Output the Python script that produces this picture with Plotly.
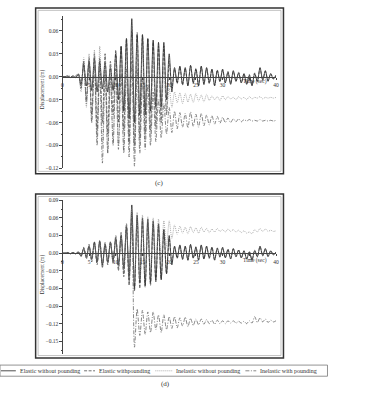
import numpy as np
import plotly.graph_objects as go

W, H = 377, 393

# ---------------- DATA ----------------
series_names = ["Elastic without pounding", "Elastic withpounding",
                "Inelastic without pounding", "Inelastic with pounding"]
x_tick_vals = [0, 5, 10, 15, 20, 25, 30, 35, 40]
x_tick_text = ["0", "5", "10", "15", "20", "25", "30", "", "40"]

# panel (c): displacement (m), samples from t=0 to 40 s
c_elastic_without = [
    0, 0, 0.001, -0.001, 0.001, -0.001,
    0.003, -0.01, 0.016, -0.012, 0.02, -0.018, 0.024, -0.02, 0.02, -0.016, 0.018, -0.02,
    0.012, -0.018, 0.03, -0.03, 0.04, -0.045, 0.05, -0.055, 0.076, -0.06, 0.055, -0.05,
    0.055, -0.05, 0.05, -0.045, 0.048, -0.04, 0.045, -0.04, 0.045, -0.03, 0.03, -0.02,
    0.012, -0.008, 0.014, -0.01, 0.012, -0.012, 0.015, -0.008, 0.01, -0.012, 0.014, -0.01,
    0.012, -0.008, 0.01, -0.012, 0.008, -0.006, 0.01, -0.008, 0.006, -0.01, 0.008, -0.006,
    0.005, -0.008, 0.004, -0.01, 0.002, -0.012, 0.004, -0.006, 0.012, -0.004, 0.008, -0.006,
    0.004, -0.003, 0.002]
c_elastic_with = [
    0, 0, 0, 0.001, -0.001, 0.001,
    0.004, -0.015, 0.02, -0.03, 0.025, -0.05, 0.03, -0.07, 0.025, -0.06, 0.03, -0.075,
    0.02, -0.05, 0.035, -0.06, 0.04, -0.07, 0.05, -0.085, 0.06, -0.09, 0.058, -0.08,
    0.055, -0.075, 0.05, -0.07, 0.045, -0.065, 0.04, -0.06, 0.04, -0.05, 0.02, -0.015,
    0.01, -0.009, 0.013, -0.011, 0.011, -0.012, 0.014, -0.009, 0.011, -0.011, 0.013, -0.01,
    0.011, -0.009, 0.01, -0.011, 0.009, -0.007, 0.009, -0.008, 0.007, -0.009, 0.007, -0.006,
    0.006, -0.008, 0.004, -0.009, 0.003, -0.011, 0.005, -0.006, 0.011, -0.005, 0.007, -0.005,
    0.004, -0.003, 0.002]
c_inelastic_without = [
    0, 0, 0.001, -0.001, 0.001, -0.001,
    0.004, -0.02, 0.025, -0.04, 0.03, -0.06, 0.035, -0.08, 0.04, -0.09, 0.03, -0.1,
    0.02, -0.085, 0.025, -0.09, 0.02, -0.095, 0.03, -0.09, 0.05, -0.1, 0.045, -0.09,
    0.04, -0.085, 0.035, -0.08, 0.03, -0.07, 0.02, -0.06, 0.01, -0.045, -0.015, -0.04,
    -0.02, -0.034, -0.021, -0.035, -0.022, -0.033, -0.023, -0.034, -0.022, -0.032, -0.024, -0.033,
    -0.023, -0.031, -0.025, -0.03, -0.026, -0.031, -0.025, -0.03, -0.026, -0.029, -0.027, -0.03,
    -0.026, -0.029, -0.027, -0.03, -0.026, -0.029, -0.027, -0.028, -0.026, -0.029, -0.027, -0.028,
    -0.027, -0.028, -0.027]
c_inelastic_with = [
    0, 0, 0.001, -0.001, 0.001, -0.001,
    0.003, -0.015, 0.02, -0.035, 0.02, -0.06, 0.015, -0.09, 0.01, -0.113, 0.005, -0.1,
    0.0, -0.09, 0.01, -0.095, 0.005, -0.1, 0.01, -0.105, 0.02, -0.117, 0.01, -0.1,
    -0.005, -0.095, -0.01, -0.09, -0.02, -0.085, -0.03, -0.08, -0.035, -0.075, -0.04, -0.073,
    -0.045, -0.068, -0.047, -0.066, -0.048, -0.067, -0.046, -0.065, -0.049, -0.066, -0.048, -0.064,
    -0.05, -0.063, -0.051, -0.062, -0.052, -0.061, -0.053, -0.06, -0.054, -0.06, -0.055, -0.059,
    -0.055, -0.059, -0.056, -0.058, -0.056, -0.058, -0.057, -0.058, -0.056, -0.058, -0.057, -0.058,
    -0.057, -0.058, -0.057]

# panel (d)
d_elastic_without = [
    0, 0, 0.001, -0.001, 0.001, -0.001,
    0.002, -0.005, 0.008, -0.006, 0.012, -0.01, 0.018, -0.015, 0.02, -0.02, 0.015, -0.015,
    0.018, -0.012, 0.025, -0.02, 0.03, -0.025, 0.045, -0.04, 0.082, -0.06, 0.065, -0.05,
    0.06, -0.055, 0.058, -0.05, 0.055, -0.045, 0.05, -0.045, 0.04, -0.035, 0.03, -0.02,
    0.012, -0.008, 0.014, -0.01, 0.012, -0.012, 0.015, -0.008, 0.01, -0.012, 0.014, -0.01,
    0.012, -0.008, 0.01, -0.012, 0.008, -0.006, 0.01, -0.008, 0.006, -0.01, 0.008, -0.006,
    0.005, -0.008, 0.004, -0.01, 0.002, -0.012, 0.004, -0.006, 0.012, -0.004, 0.008, -0.006,
    0.004, -0.003, 0.002]
d_elastic_with = [
    0, 0, 0.001, -0.001, 0.001, -0.001,
    0.002, -0.006, 0.01, -0.01, 0.015, -0.015, 0.02, -0.02, 0.022, -0.025, 0.018, -0.02,
    0.02, -0.018, 0.03, -0.03, 0.035, -0.04, 0.05, -0.055, 0.07, -0.065, 0.06, -0.06,
    0.055, -0.058, 0.052, -0.055, 0.05, -0.05, 0.045, -0.045, 0.04, -0.035, 0.025, -0.015,
    0.01, -0.009, 0.013, -0.011, 0.011, -0.012, 0.014, -0.009, 0.011, -0.011, 0.013, -0.01,
    0.011, -0.009, 0.01, -0.011, 0.009, -0.007, 0.009, -0.008, 0.007, -0.009, 0.007, -0.006,
    0.006, -0.008, 0.004, -0.009, 0.003, -0.011, 0.005, -0.006, 0.011, -0.005, 0.007, -0.005,
    0.004, -0.003, 0.002]
d_inelastic_without = [
    0, 0, 0.001, -0.001, 0.001, -0.001,
    0.002, -0.005, 0.008, -0.007, 0.012, -0.01, 0.016, -0.014, 0.02, -0.018, 0.016, -0.014,
    0.018, -0.012, 0.025, -0.02, 0.035, -0.03, 0.05, -0.04, 0.078, -0.05, 0.07, -0.045,
    0.065, -0.035, 0.062, -0.03, 0.06, -0.02, 0.058, -0.01, 0.055, 0.01, 0.055, 0.025,
    0.048, 0.032, 0.046, 0.034, 0.044, 0.033, 0.045, 0.035, 0.043, 0.034, 0.044, 0.036,
    0.042, 0.035, 0.041, 0.036, 0.042, 0.037, 0.04, 0.036, 0.041, 0.037, 0.04, 0.036,
    0.039, 0.035, 0.038, 0.034, 0.036, 0.033, 0.04, 0.036, 0.042, 0.037, 0.041, 0.037,
    0.039, 0.037, 0.038]
d_inelastic_with = [
    0, 0, 0.001, -0.001, 0.001, -0.001,
    0.002, -0.005, 0.008, -0.008, 0.012, -0.012, 0.016, -0.016, 0.02, -0.02, 0.015, -0.017,
    0.018, -0.015, 0.025, -0.025, 0.03, -0.035, 0.045, -0.05, 0.06, -0.16, -0.095, -0.14,
    -0.097, -0.138, -0.1, -0.135, -0.1, -0.13, -0.105, -0.135, -0.105, -0.13, -0.108, -0.128,
    -0.108, -0.127, -0.11, -0.124, -0.109, -0.125, -0.111, -0.123, -0.112, -0.122, -0.112, -0.121,
    -0.113, -0.12, -0.114, -0.121, -0.114, -0.12, -0.115, -0.12, -0.115, -0.119, -0.115, -0.119,
    -0.116, -0.119, -0.116, -0.12, -0.115, -0.119, -0.108, -0.118, -0.11, -0.117, -0.112, -0.118,
    -0.114, -0.117, -0.115]

panel_c = [c_elastic_without, c_elastic_with, c_inelastic_without, c_inelastic_with]
panel_d = [d_elastic_without, d_elastic_with, d_inelastic_without, d_inelastic_with]

# ---------------- STYLE ----------------
SERIF = "Liberation Serif"
styles = [
    dict(color="#222222", width=0.8, dash="solid"),
    dict(color="#333333", width=0.7, dash="3px,1.5px"),
    dict(color="#8a8a8a", width=0.7, dash="1px,1px"),
    dict(color="#555555", width=0.7, dash="4px,1.5px,1px,1.5px"),
]

def px(x):
    return x / W

def py(y):
    return 1 - y / H

fig = go.Figure()

for vals_list, (xa, ya) in [(panel_c, ("x", "y")), (panel_d, ("x2", "y2"))]:
    for vals, st in zip(vals_list, styles):
        t = np.linspace(0, 40, len(vals))
        fig.add_trace(go.Scatter(x=t, y=vals, mode="lines",
                                 line=dict(st, shape="spline", smoothing=0.8),
                                 xaxis=xa, yaxis=ya, showlegend=False,
                                 hoverinfo="skip"))

# axes geometry
xdom = [px(62), px(278)]
c_range = [-0.12, 0.08]
c_dom = [py(168), py(12.8)]
d_range = [-0.172, 0.09]
d_dom = [py(356.7), py(200.3)]

def zero_pos(rng, dom):
    return dom[0] + (0 - rng[0]) / (rng[1] - rng[0]) * (dom[1] - dom[0])

tickfont = dict(family=SERIF, size=5.5, color="#333")
xcommon = dict(range=[0, 40], domain=xdom, anchor="free", showline=True,
               linecolor="#444", linewidth=0.8, ticks="outside", ticklen=2,
               tickcolor="#444", tickwidth=0.6, tickmode="array",
               tickvals=x_tick_vals, ticktext=x_tick_text, tickfont=tickfont,
               showgrid=False, zeroline=False, ticklabelstandoff=1)
ycommon = dict(anchor="free", position=px(62), showline=True, linecolor="#444",
               linewidth=0.8, ticks="outside", ticklen=3, tickcolor="#444",
               tickwidth=0.6, tickmode="linear", tick0=0, dtick=0.03,
               tickformat=".2f", tickfont=tickfont, showgrid=False, zeroline=False,
               minor=dict(ticks="outside", ticklen=1.5, tickcolor="#444",
                          tickmode="linear", tick0=0, dtick=0.015))

fig.update_layout(
    width=W, height=H, margin=dict(l=0, r=0, t=0, b=0),
    paper_bgcolor="white", plot_bgcolor="rgba(0,0,0,0)",
    xaxis=dict(xcommon, position=zero_pos(c_range, c_dom)),
    yaxis=dict(ycommon, range=c_range, domain=c_dom),
    xaxis2=dict(xcommon, position=zero_pos(d_range, d_dom)),
    yaxis2=dict(ycommon, range=d_range, domain=d_dom),
)

shapes = []
# double frames
for (x0, x1, y0, y1) in [(35, 285.5, 5, 173.5), (35, 285.5, 194, 360.5)]:
    shapes.append(dict(type="rect", xref="paper", yref="paper",
                       x0=px(x0), x1=px(x1), y0=py(y1), y1=py(y0),
                       line=dict(color="#333", width=1.5)))
    shapes.append(dict(type="rect", xref="paper", yref="paper",
                       x0=px(x0 + 2.5), x1=px(x1 - 2.5), y0=py(y1 - 2.5), y1=py(y0 + 2.5),
                       line=dict(color="#aaa", width=0.7)))
# legend box
shapes.append(dict(type="rect", xref="paper", yref="paper",
                   x0=px(-1), x1=px(330), y0=py(379), y1=py(367.7),
                   line=dict(color="#777", width=0.8)))
leg_y = 373.5
leg_samples = [(0, 15), (84, 95), (156, 173), (247, 258)]
leg_text_x = [17, 97, 175, 260]
for (a, b), st in zip(leg_samples, styles):
    shapes.append(dict(type="line", xref="paper", yref="paper",
                       x0=px(a), x1=px(b), y0=py(leg_y), y1=py(leg_y),
                       line=st))
fig.update_layout(shapes=shapes)

ann = []
for name, tx in zip(series_names, leg_text_x):
    ann.append(dict(text=name, x=px(tx), y=py(leg_y), xref="paper", yref="paper",
                    xanchor="left", yanchor="middle", showarrow=False,
                    font=dict(family=SERIF, size=6, color="#333")))
for txt, x, y in [("(c)", 160, 183), ("(d)", 166, 387)]:
    ann.append(dict(text=txt, x=px(x), y=py(y), xref="paper", yref="paper",
                    xanchor="center", yanchor="middle", showarrow=False,
                    font=dict(family=SERIF, size=7, color="#333")))
for y in [80, 261]:
    ann.append(dict(text="Time (sec)", x=px(257), y=py(y), xref="paper", yref="paper",
                    xanchor="center", yanchor="middle", showarrow=False,
                    font=dict(family=SERIF, size=5.5, color="#333")))
for y in [88, 276]:
    ann.append(dict(text="Displacement (m)", x=px(42), y=py(y), xref="paper", yref="paper",
                    xanchor="center", yanchor="middle", showarrow=False, textangle=-90,
                    font=dict(family=SERIF, size=5.5, color="#333")))
fig.update_layout(annotations=ann)

fig.write_html("out.html")
